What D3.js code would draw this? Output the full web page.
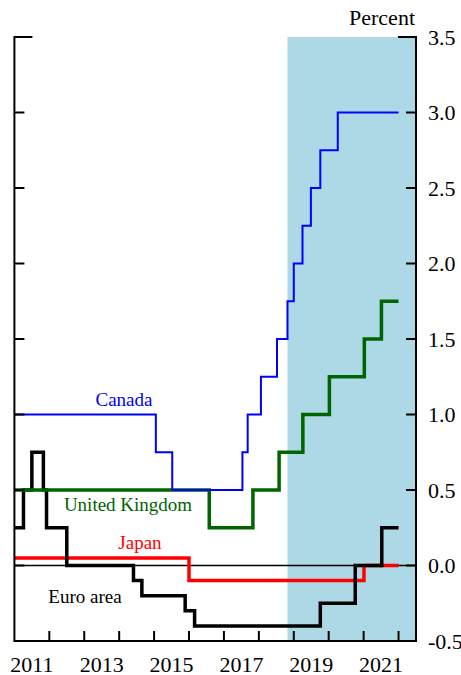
<!DOCTYPE html>
<html>
<head>
<meta charset="utf-8">
<script src="https://cdn.jsdelivr.net/npm/d3@7"></script>
<style>
  html, body { margin: 0; padding: 0; background: #fff; }
  svg { display: block; }
  text { font-family: "Liberation Serif", "Times New Roman", serif; }
</style>
</head>
<body>
<svg id="chart" width="461" height="675"></svg>
<script>
// ---- Data ----
const canadaDates  = [2011.0, 2015.05, 2015.52, 2017.53, 2017.68, 2018.06, 2018.52, 2018.82, 2019.0, 2019.25, 2019.49, 2019.76, 2020.26, 2022.0];
const canadaValues = [1.0, 0.75, 0.5, 0.75, 1.0, 1.25, 1.5, 1.75, 2.0, 2.25, 2.5, 2.75, 3.0, 3.0];

const ukDates  = [2011.0, 2016.58, 2017.83, 2018.58, 2019.26, 2020.02, 2021.02, 2021.51, 2022.0];
const ukValues = [0.5, 0.25, 0.5, 0.75, 1.0, 1.25, 1.5, 1.75, 1.75];

const japanDates  = [2011.0, 2016.0, 2021.01, 2022.0];
const japanValues = [0.05, -0.1, 0.0, 0.0];

const euroDates  = [2011.0, 2011.26, 2011.5, 2011.83, 2011.92, 2012.5, 2014.41, 2014.65, 2015.89, 2016.16, 2019.76, 2020.76, 2021.52, 2022.0];
const euroValues = [0.25, 0.5, 0.75, 0.5, 0.25, 0.0, -0.1, -0.2, -0.3, -0.4, -0.25, 0.0, 0.25, 0.25];

const shadeStart = 2018.82;
const shadeEnd = 2022.5;

const yTicks = [-0.5, 0.0, 0.5, 1.0, 1.5, 2.0, 2.5, 3.0, 3.5];
const yTickLabels = ["-0.5", "0.0", "0.5", "1.0", "1.5", "2.0", "2.5", "3.0", "3.5"];
const xTickYears = [2012, 2013, 2014, 2015, 2016, 2017, 2018, 2019, 2020, 2021, 2022];
const xLabelYears = [2011, 2013, 2015, 2017, 2019, 2021];

const seriesNames = ["Canada", "United Kingdom", "Japan", "Euro area"];

// ---- Layout ----
const svg = d3.select("#chart");
const pLeft = 14.4, pRight = 416, pTop = 37, pBottom = 641;

const x = d3.scaleLinear().domain([2011.0, 2022.5]).range([pLeft, pRight]);
const y = d3.scaleLinear().domain([-0.5, 3.5]).range([pBottom, pTop]);

// shaded region
svg.append("rect")
  .attr("x", x(shadeStart)).attr("y", y(3.5))
  .attr("width", x(shadeEnd) - x(shadeStart))
  .attr("height", y(-0.5) - y(3.5))
  .attr("fill", "#add8e6");

// zero line
svg.append("line")
  .attr("x1", x(2011.0)).attr("x2", x(2022.5))
  .attr("y1", y(0)).attr("y2", y(0))
  .attr("stroke", "#000").attr("stroke-width", 1.5);

const line = d3.line().curve(d3.curveStepAfter).x(d => x(d[0])).y(d => y(d[1]));
function drawSeries(dates, values, color, width) {
  svg.append("path")
    .datum(dates.map((d, i) => [d, values[i]]))
    .attr("d", line)
    .attr("fill", "none")
    .attr("stroke", color)
    .attr("stroke-width", width)
    .attr("stroke-linejoin", "miter");
}
drawSeries(japanDates, japanValues, "#ff0000", 3.5);
drawSeries(euroDates, euroValues, "#000000", 3.5);
drawSeries(ukDates, ukValues, "#006400", 3.5);
drawSeries(canadaDates, canadaValues, "#0000ff", 2);

// frame: left, right, bottom
const axisColor = "#000";
svg.append("line").attr("x1", pLeft).attr("x2", pLeft).attr("y1", pTop - 1).attr("y2", pBottom + 1)
  .attr("stroke", axisColor).attr("stroke-width", 2);
svg.append("line").attr("x1", pRight).attr("x2", pRight).attr("y1", pTop - 1).attr("y2", pBottom + 1)
  .attr("stroke", axisColor).attr("stroke-width", 2);
svg.append("line").attr("x1", pLeft).attr("x2", pRight).attr("y1", pBottom).attr("y2", pBottom)
  .attr("stroke", axisColor).attr("stroke-width", 2);

// y axis labels on right
const yAxisR = d3.axisRight(y).tickValues(yTicks).tickSize(0).tickFormat((d, i) => yTickLabels[i]).tickPadding(12);
const gR = svg.append("g").attr("transform", `translate(${pRight},0)`).call(yAxisR);
gR.select(".domain").remove();
gR.selectAll("text").attr("font-size", 22).attr("fill", "#000")
  .style("font-family", '"Liberation Serif", serif');

// y ticks (both sides, inward)
yTicks.forEach(v => {
  const len = v === 3.5 ? 18 : 10;
  svg.append("line").attr("x1", pLeft).attr("x2", pLeft + len).attr("y1", y(v)).attr("y2", y(v))
    .attr("stroke", axisColor).attr("stroke-width", 2);
  svg.append("line").attr("x1", pRight - len).attr("x2", pRight).attr("y1", y(v)).attr("y2", y(v))
    .attr("stroke", axisColor).attr("stroke-width", 2);
});

// x ticks (inward, upward)
xTickYears.forEach(yr => {
  svg.append("line").attr("x1", x(yr)).attr("x2", x(yr)).attr("y1", pBottom).attr("y2", pBottom - 10)
    .attr("stroke", axisColor).attr("stroke-width", 2);
});
svg.selectAll(".xlab").data(xLabelYears).enter().append("text")
  .attr("class", "xlab")
  .attr("x", d => x(d + 0.5)).attr("y", 672)
  .attr("text-anchor", "middle").attr("font-size", 22).attr("fill", "#000")
  .text(d => d);

// unit label
svg.append("text").attr("x", 415).attr("y", 25).attr("text-anchor", "end")
  .attr("font-size", 22).attr("fill", "#000").text("Percent");

// series labels
const labelPos = [
  { name: seriesNames[0], x: 124, y: 406, color: "#0000ff" },
  { name: seriesNames[1], x: 128, y: 511, color: "#006400" },
  { name: seriesNames[2], x: 140, y: 549, color: "#ff0000" },
  { name: seriesNames[3], x: 85, y: 603, color: "#000000" }
];
labelPos.forEach(l => {
  svg.append("text").attr("x", l.x).attr("y", l.y).attr("text-anchor", "middle")
    .attr("font-size", 19).attr("fill", l.color).text(l.name);
});
</script>
</body>
</html>
